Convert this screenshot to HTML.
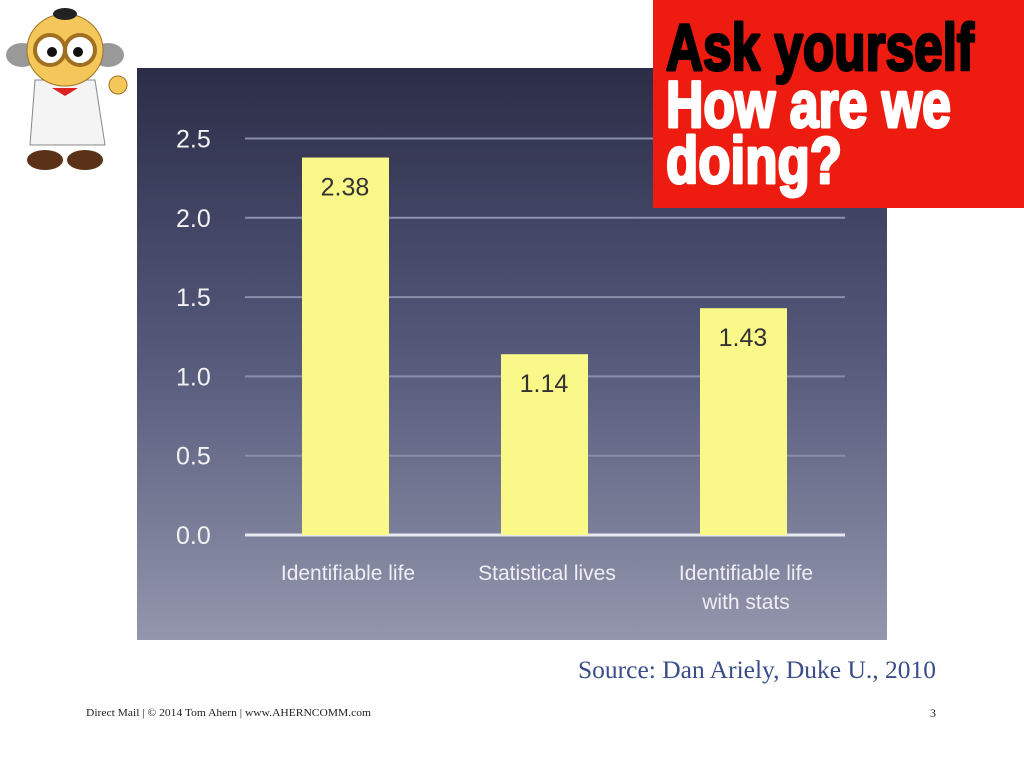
<!DOCTYPE html>
<html><head><meta charset="utf-8"><style>
body{margin:0;width:1024px;height:768px;background:#fff;position:relative;overflow:hidden;font-family:"Liberation Sans",sans-serif}
</style></head><body>
<svg width="1024" height="768" style="position:absolute;left:0;top:0">
<defs><linearGradient id="bg" x1="0" y1="0" x2="0" y2="1">
<stop offset="0" stop-color="#2b2d48"/><stop offset="0.5" stop-color="#55597a"/><stop offset="1" stop-color="#9396ac"/></linearGradient></defs>
<rect x="137" y="68" width="750" height="572" fill="url(#bg)"/>
<g id="chart"></g>
<g>
<ellipse cx="22" cy="55" rx="16" ry="12" fill="#999"/><ellipse cx="108" cy="55" rx="16" ry="12" fill="#999"/>
<path d="M35 80 L95 80 L105 145 L30 145 Z" fill="#f4f4f4" stroke="#888"/>
<ellipse cx="65" cy="50" rx="38" ry="36" fill="#f3c75a" stroke="#a07020"/>
<circle cx="50" cy="50" r="15" fill="#fff" stroke="#a07020" stroke-width="4"/><circle cx="80" cy="50" r="15" fill="#fff" stroke="#a07020" stroke-width="4"/>
<circle cx="52" cy="52" r="5" fill="#111"/><circle cx="78" cy="52" r="5" fill="#111"/>
<ellipse cx="65" cy="14" rx="12" ry="6" fill="#222"/>
<path d="M52 88 L78 88 L65 96 Z" fill="#d22"/>
<circle cx="118" cy="85" r="9" fill="#f3c75a" stroke="#a07020"/>
<ellipse cx="45" cy="160" rx="18" ry="10" fill="#5a3218"/><ellipse cx="85" cy="160" rx="18" ry="10" fill="#5a3218"/>
</g>
<rect x="653" y="0" width="371" height="208" fill="#ee1c10"/>
<g font-family="Liberation Sans Narrow, Liberation Sans, sans-serif" font-weight="bold" font-size="66" stroke-width="3" stroke-linejoin="round">
<text x="666" y="70" fill="#000" stroke="#000" textLength="308" lengthAdjust="spacingAndGlyphs">Ask yourself</text>
<text x="666" y="127" fill="#fff" stroke="#fff" textLength="285" lengthAdjust="spacingAndGlyphs">How are we</text>
<text x="666" y="183" fill="#fff" stroke="#fff" textLength="176" lengthAdjust="spacingAndGlyphs">doing?</text>
</g>
<text x="936" y="678" text-anchor="end" font-family="Liberation Serif, serif" font-size="25" fill="#3a4c8a" textLength="358" lengthAdjust="spacingAndGlyphs">Source: Dan Ariely, Duke U., 2010</text>
<text x="86" y="716" font-family="Liberation Serif, serif" font-size="11" fill="#222" textLength="285" lengthAdjust="spacingAndGlyphs">Direct Mail | © 2014 Tom Ahern | www.AHERNCOMM.com</text>
<text x="936" y="717" text-anchor="end" font-family="Liberation Serif, serif" font-size="12" fill="#222">3</text>
</svg>
<script>
const categories=[["Identifiable life"],["Statistical lives"],["Identifiable life","with stats"]];
const values=[2.38,1.14,1.43];
const valueLabels=["2.38","1.14","1.43"];
const ticks=[0,0.5,1.0,1.5,2.0,2.5];
const tickLabels=["0.0","0.5","1.0","1.5","2.0","2.5"];
const NS="http://www.w3.org/2000/svg";
const g=document.getElementById('chart');
const y=v=>535-v*158.6;
const xc=i=>345+i*199;
function mk(t,a){const e=document.createElementNS(NS,t);for(const k in a)e.setAttribute(k,a[k]);g.appendChild(e);return e;}
ticks.forEach((t,i)=>{
 const l=mk('line',{x1:245,x2:845,y1:y(t),y2:y(t),stroke:i==0?'#e8e8f0':'#8a8eaa','stroke-width':i==0?3:2});
 
 
 const tx=mk('text',{x:176,y:y(t)+9,'font-size':25,fill:'#f2f2f2'});
 tx.textContent=tickLabels[i];
 
 
});
values.forEach((v,i)=>{
 const r=mk('rect',{x:xc(i)-43,y:y(v),width:87,height:y(0)-y(v),fill:'#fbf88a'});
 
 
 const t=mk('text',{x:xc(i),y:y(v)+38,'text-anchor':'middle','font-size':25,fill:'#333'});
 t.textContent=valueLabels[i];
 
 
 categories[i].forEach((s,j)=>{
  const c=mk('text',{x:xc(i)+3,y:580+j*29,'text-anchor':'middle','font-size':21,fill:'#eeeef4'});
  c.textContent=s;
  
  
 });
});
</script>
</body></html>
